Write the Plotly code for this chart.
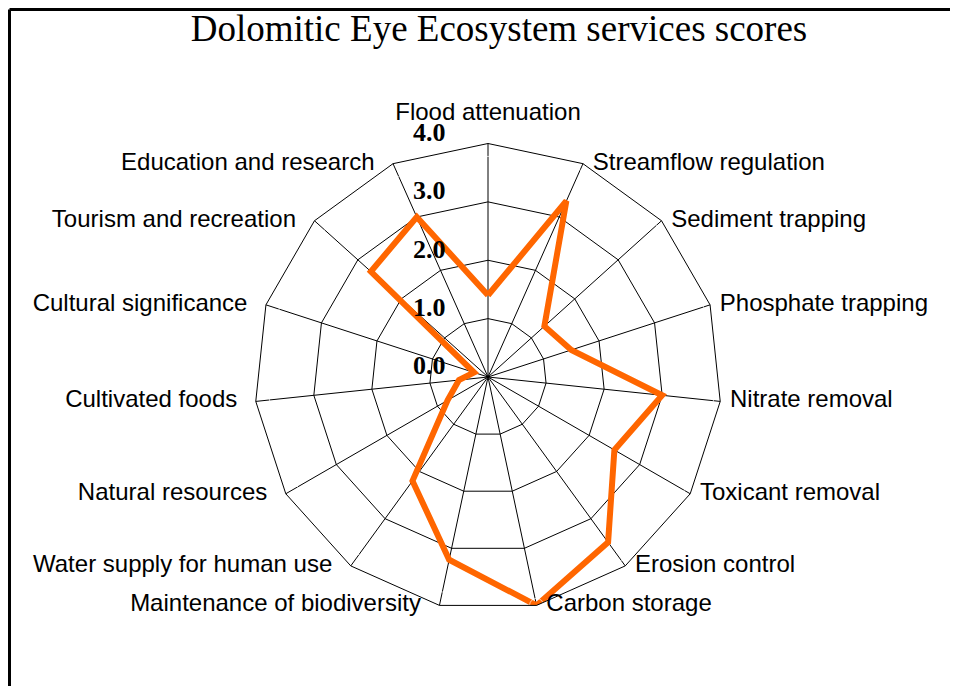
import plotly.graph_objects as go

categories = [
    "Flood attenuation", "Streamflow regulation", "Sediment trapping",
    "Phosphate trapping", "Nitrate removal", "Toxicant removal",
    "Erosion control", "Carbon storage", "Maintenance of biodiversity",
    "Water supply for human use", "Natural resources", "Cultivated foods",
    "Cultural significance", "Tourism and recreation", "Education and research",
]
scores = [1.4, 3.3, 1.3, 1.5, 3.0, 2.5, 3.5, 4.0, 3.2, 2.2, 0.8, 0.5, 0.25, 2.7, 3.0]
radial_ticks = [0, 1, 2, 3, 4]
radial_tick_labels = ["0.0", "1.0", "2.0", "3.0", "4.0"]
title_text = "Dolomitic Eye Ecosystem services scores"

# page has an 8px body margin, so the figure is 950x678 and coordinates are shifted by -8
W, H = 950, 678
cx, cy, R = 480, 369, 233.5
r_max = 4
label_lift = 11  # radial tick labels sit a little above their gridlines

n = len(categories)
label_pos, label_size = [], []
for i in range(n):
    ang = 360.0 * i / n
    if ang == 0:
        label_pos.append("top center"); label_size.append(26)
    elif ang < 180:
        label_pos.append("middle right"); label_size.append(14)
    else:
        label_pos.append("middle left"); label_size.append(28)

fig = go.Figure()
# carrier trace for the overlay subplot that only shows the radial tick labels (drawn first)
fig.add_trace(go.Scatterpolar(
    r=[0], theta=categories[:1], mode="markers",
    marker=dict(size=1, color="rgba(0,0,0,0)"),
    subplot="polar2", showlegend=False, hoverinfo="skip",
))
fig.add_trace(go.Scatterpolar(
    r=scores + scores[:1],
    theta=categories + categories[:1],
    mode="lines",
    line=dict(color="#FF6600", width=6),
    showlegend=False,
    hoverinfo="skip",
))
fig.add_trace(go.Scatterpolar(
    r=[r_max] * n,
    theta=categories,
    mode="markers+text",
    text=categories,
    textposition=label_pos,
    textfont=dict(family="Liberation Sans", size=24, color="black"),
    marker=dict(size=label_size, color="rgba(0,0,0,0)"),
    cliponaxis=False,
    showlegend=False,
    hoverinfo="skip",
))

dom_x = [(cx - R) / W, (cx + R) / W]
dom_y = [(H - cy - R) / H, (H - cy + R) / H]

fig.update_layout(
    width=W, height=H,
    margin=dict(l=0, r=0, t=0, b=0),
    paper_bgcolor="white",
    plot_bgcolor="white",
    title=dict(text=title_text, x=491 / W, xanchor="center", y=1 - 20 / H, yanchor="middle",
               font=dict(family="Liberation Serif", size=37, color="black")),
    polar=dict(
        domain=dict(x=dom_x, y=dom_y),
        bgcolor="white",
        gridshape="linear",
        angularaxis=dict(
            direction="clockwise", rotation=90,
            showline=True, linecolor="black", linewidth=1,
            showgrid=True, gridcolor="black", gridwidth=1,
            ticks="", showticklabels=False,
        ),
        radialaxis=dict(
            range=[0, r_max], tickvals=radial_ticks,
            angle=90, showticklabels=False, ticks="",
            showline=False, showgrid=True, gridcolor="black", gridwidth=1,
        ),
    ),
    polar2=dict(
        domain=dict(x=dom_x, y=[dom_y[0] + label_lift / H, dom_y[1] + label_lift / H]),
        bgcolor="rgba(0,0,0,0)",
        gridshape="linear",
        angularaxis=dict(
            categoryarray=categories, direction="clockwise", rotation=90,
            visible=False, showline=False, showgrid=False, showticklabels=False, ticks="",
        ),
        radialaxis=dict(
            range=[0, r_max], tickvals=radial_ticks, ticktext=radial_tick_labels,
            angle=90, side="counterclockwise", tickangle=90,
            showline=False, showgrid=False,
            ticks="outside", ticklen=33, tickcolor="rgba(0,0,0,0)",
            tickfont=dict(family="Liberation Serif", size=26, color="black", weight="bold"),
        ),
    ),
    shapes=[
        dict(type="line", xref="paper", yref="paper", x0=1.5 / W, x1=1.5 / W, y0=-0.5, y1=1 - 1.5 / H,
             line=dict(color="black", width=3)),
        dict(type="line", xref="paper", yref="paper", x0=1.5 / W, x1=1.5, y0=1 - 1.5 / H, y1=1 - 1.5 / H,
             line=dict(color="black", width=3)),
    ],
)

fig.write_html("out.html")
